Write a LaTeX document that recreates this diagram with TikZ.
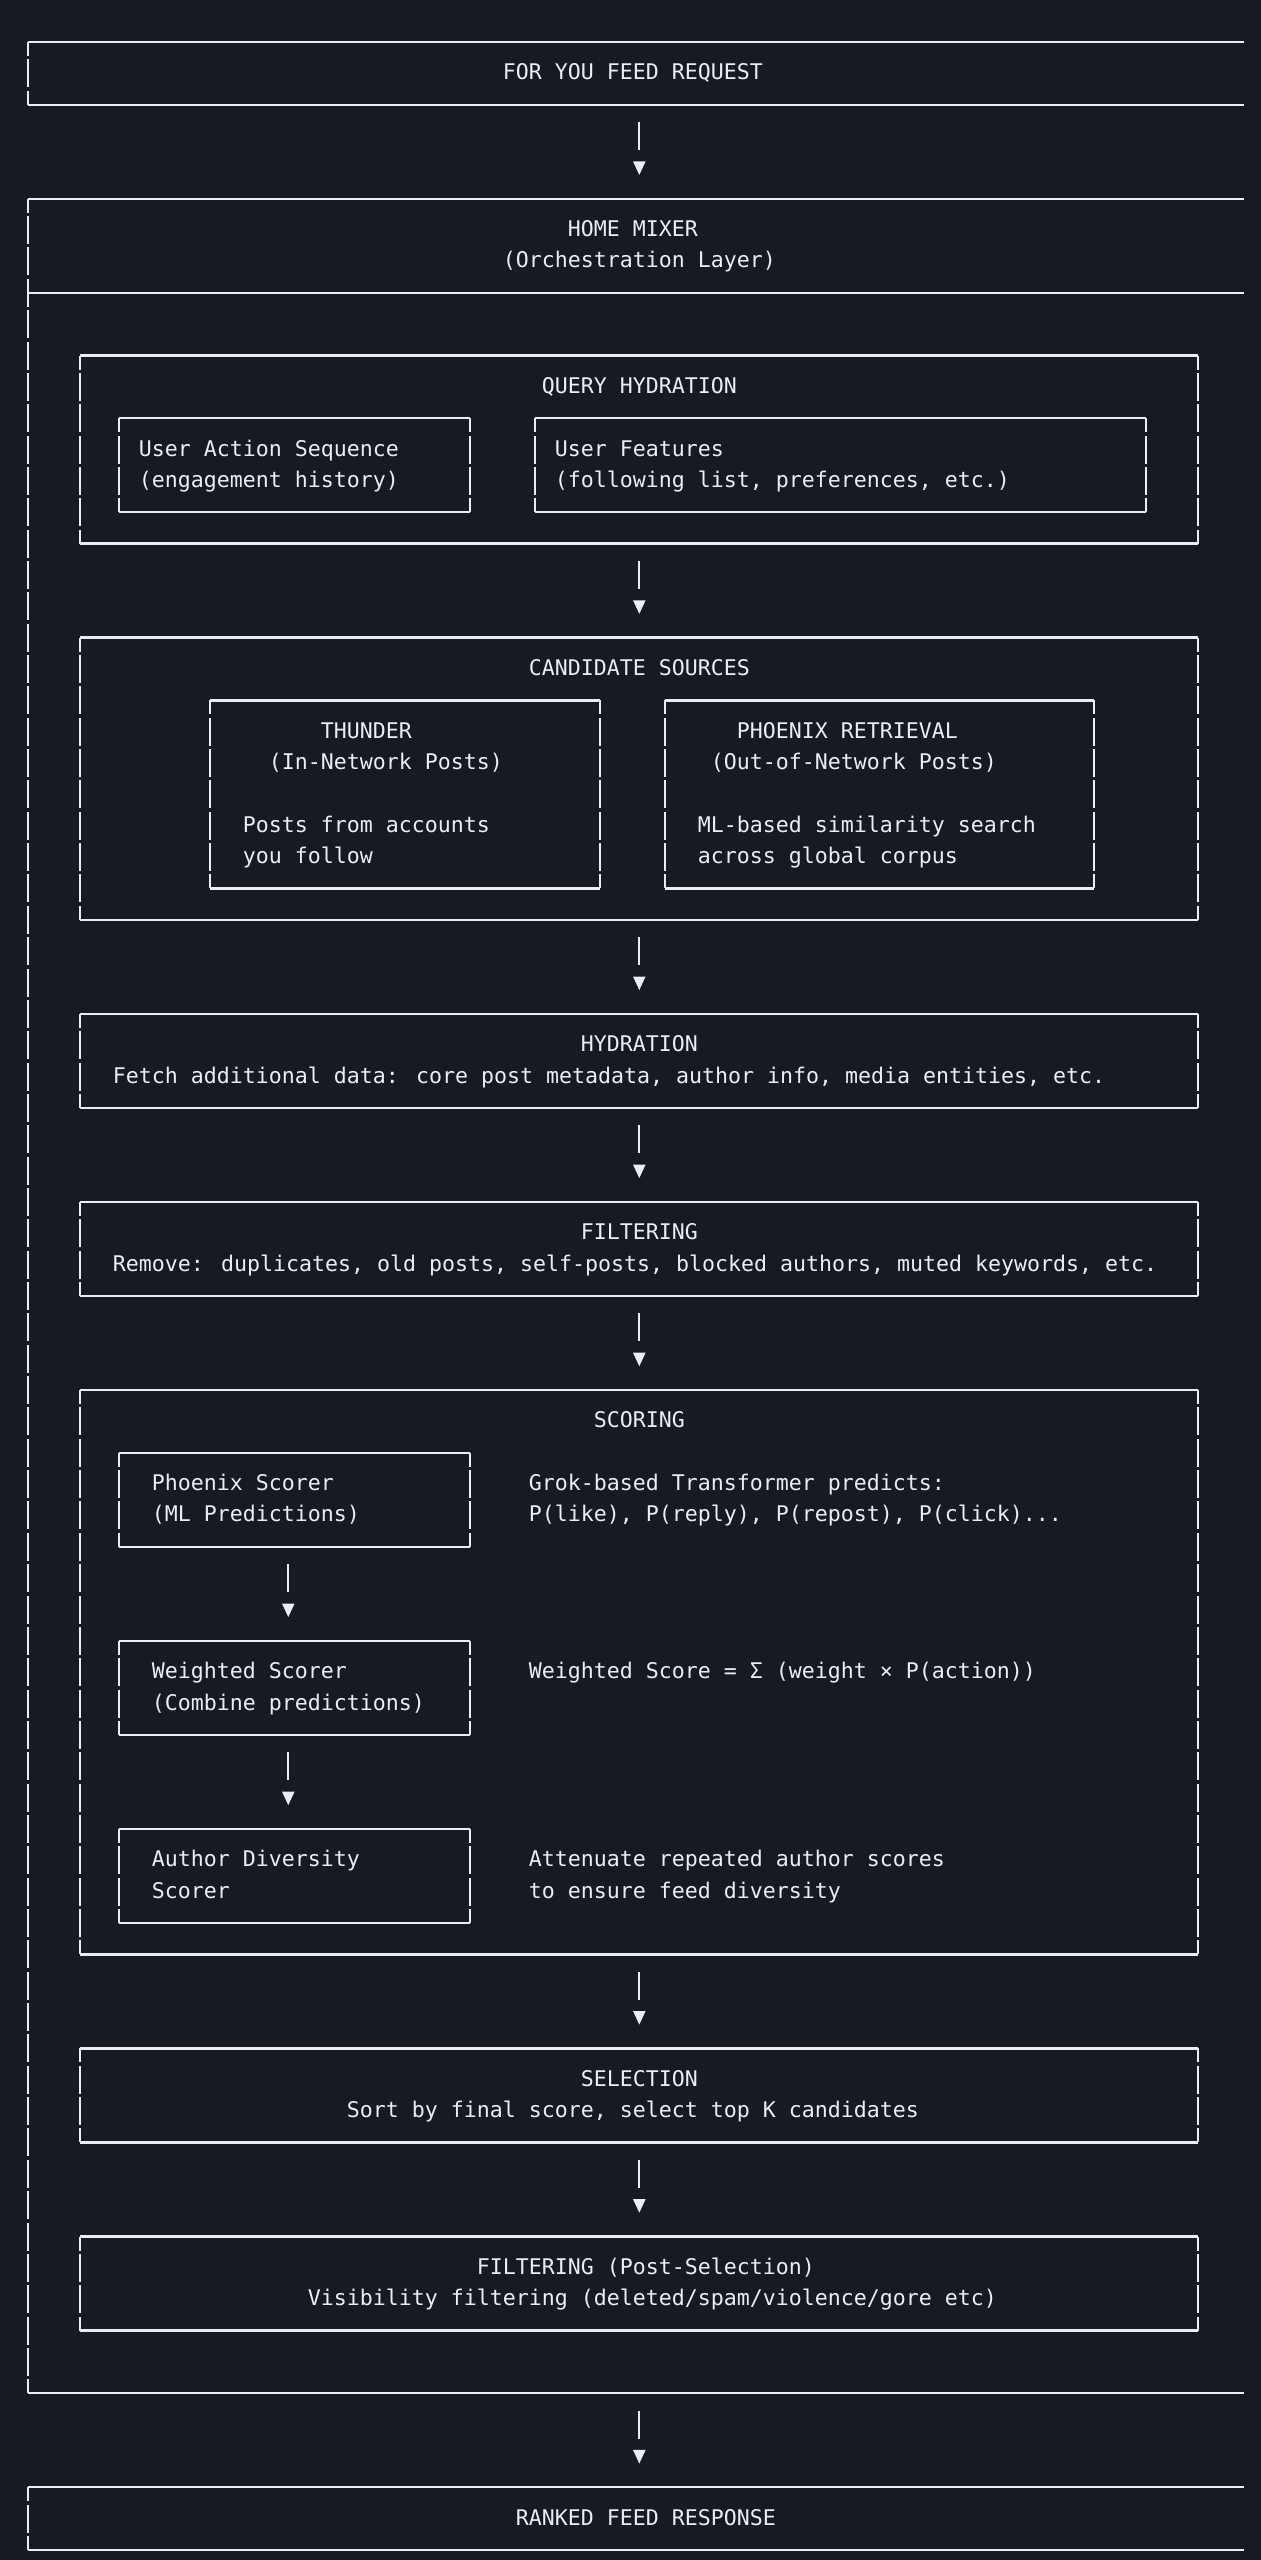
\documentclass[tikz,border=0pt]{standalone}
\usepackage{fontspec}
\newfontfamily\asciimono{DejaVu Sans Mono}
\usetikzlibrary{fit,calc}
\definecolor{bgc}{RGB}{22,27,34}
\definecolor{fgc}{RGB}{232,238,244}
\makeatletter
\def\gridparse#1,#2\@nil{%
  \pgfmathsetmacro\gridX{28.3+13*(#1)}%
  \pgfmathsetmacro\gridY{42+31.35*(#2)}%
  \pgfpointxy{\gridX}{\gridY}}
\tikzdeclarecoordinatesystem{g}{\gridparse#1\@nil}
\makeatother
\tikzset{
  hrule/.style={draw=fgc, line width=0.7pt, line cap=butt},
  vrule/.style={draw=fgc, line width=0.7pt, dash pattern=on 8.4pt off 1.005pt, dash phase=4.2pt},
  boxfit/.style={inner sep=0pt, outer sep=0pt},
  txt/.style={anchor=base west, inner sep=0pt, outer sep=0pt, text=fgc, yshift=-1.95pt,
    font=\asciimono\fontsize{6.478pt}{8pt}\selectfont},
  tip/.style={fill=fgc},
}
\newcommand\asciibox[5]{%
  \node[boxfit, fit={(g cs:#2,#3) (g cs:#4,#5)}] (#1) {};
  \draw[hrule] (#1.north west) -- (#1.north east);
  \draw[hrule] (#1.south west) -- (#1.south east);
  \draw[vrule] (#1.north west) -- (#1.south west);
  \draw[vrule] (#1.north east) -- (#1.south east);
}
\newcommand\openbox[5]{%
  \node[boxfit, fit={(g cs:#2,#3) (g cs:#4+0.5,#5)}] (#1) {};
  \draw[hrule] (#1.north west) -- (#1.north east);
  \draw[hrule] (#1.south west) -- (#1.south east);
  \draw[vrule] (#1.north west) -- (#1.south west);
}
\newcommand\asciiarrow[3]{%
  \draw[hrule] ($(#1.south -| #2)+(0,17.35)$) -- ($(#1.south -| #2)+(0,45.35)$);
  \fill[tip] ($(#3.north -| #2)+(-6.3,-37.35)$) -- ++(12.6,0) -- ++(-6.3,13.5) -- cycle;
}
\newcommand\asciitext[4]{\node[txt] (#1) at (g cs:#2-0.5,#3) {#4};}
\begin{document}
\begin{tikzpicture}[x=0.3pt,y=-0.3pt]
\useasboundingbox (0,0) rectangle (1261,2560);
\fill[bgc] (0,0) rectangle (1261,2560);
\coordinate (col47) at (g cs:47,0);
\coordinate (col20) at (g cs:20,0);

% outer boxes
\openbox{fyr}{0}{0}{93}{2}
\openbox{home}{0}{5}{93}{75}
\coordinate (homesep) at (g cs:0,8);
\draw[hrule] (homesep) -- (homesep -| home.east);
\openbox{rfr}{0}{78}{93}{80}

% inner boxes
\asciibox{qh}{4}{10}{90}{16}
\asciibox{uas}{7}{12}{34}{15}
\asciibox{uf}{39}{12}{86}{15}
\asciibox{candsrc}{4}{19}{90}{28}
\asciibox{thunder}{14}{21}{44}{27}
\asciibox{phx}{49}{21}{82}{27}
\asciibox{hyd}{4}{31}{90}{34}
\asciibox{filt}{4}{37}{90}{40}
\asciibox{scoring}{4}{43}{90}{61}
\asciibox{ps}{7}{45}{34}{48}
\asciibox{ws}{7}{51}{34}{54}
\asciibox{ad}{7}{57}{34}{60}
\asciibox{sel}{4}{64}{90}{67}
\asciibox{post}{4}{70}{90}{73}

% arrows
\asciiarrow{fyr}{col47}{home}
\asciiarrow{qh}{col47}{candsrc}
\asciiarrow{candsrc}{col47}{hyd}
\asciiarrow{hyd}{col47}{filt}
\asciiarrow{filt}{col47}{scoring}
\asciiarrow{scoring}{col47}{sel}
\asciiarrow{sel}{col47}{post}
\asciiarrow{home}{col47}{rfr}
\asciiarrow{ps}{col20}{ws}
\asciiarrow{ws}{col20}{ad}

% texts
\asciitext{tfyr}{37}{1}{FOR YOU FEED REQUEST}
\asciitext{thome}{42}{6}{HOME MIXER}
\asciitext{thome2}{37}{7}{(Orchestration Layer)}
\asciitext{tqh}{40}{11}{QUERY HYDRATION}
\asciitext{tuas}{9}{13}{User Action Sequence}
\asciitext{tuas2}{9}{14}{(engagement history)}
\asciitext{tuf}{41}{13}{User Features}
\asciitext{tuf2}{41}{14}{(following list, preferences, etc.)}
\asciitext{tcs}{39}{20}{CANDIDATE SOURCES}
\asciitext{tth}{23}{22}{THUNDER}
\asciitext{tth2}{19}{23}{(In-Network Posts)}
\asciitext{tth3}{17}{25}{Posts from accounts}
\asciitext{tth4}{17}{26}{you follow}
\asciitext{tpx}{55}{22}{PHOENIX RETRIEVAL}
\asciitext{tpx2}{53}{23}{(Out-of-Network Posts)}
\asciitext{tpx3}{52}{25}{ML-based similarity search}
\asciitext{tpx4}{52}{26}{across global corpus}
\asciitext{thyd}{43}{32}{HYDRATION}
\asciitext{thyd2}{7}{33}{Fetch additional data: core post metadata, author info, media entities, etc.}
\asciitext{tfilt}{43}{38}{FILTERING}
\asciitext{tfilt2}{7}{39}{Remove: duplicates, old posts, self-posts, blocked authors, muted keywords, etc.}
\asciitext{tsc}{44}{44}{SCORING}
\asciitext{tps}{10}{46}{Phoenix Scorer}
\asciitext{tps2}{10}{47}{(ML Predictions)}
\asciitext{tpsd}{39}{46}{Grok-based Transformer predicts:}
\asciitext{tpsd2}{39}{47}{P(like), P(reply), P(repost), P(click)...}
\asciitext{tws}{10}{52}{Weighted Scorer}
\asciitext{tws2}{10}{53}{(Combine predictions)}
\asciitext{twsd}{39}{52}{Weighted Score = Σ (weight × P(action))}
\asciitext{tad}{10}{58}{Author Diversity}
\asciitext{tad2}{10}{59}{Scorer}
\asciitext{tadd}{39}{58}{Attenuate repeated author scores}
\asciitext{tadd2}{39}{59}{to ensure feed diversity}
\asciitext{tsel}{43}{65}{SELECTION}
\asciitext{tsel2}{25}{66}{Sort by final score, select top K candidates}
\asciitext{tpost}{35}{71}{FILTERING (Post-Selection)}
\asciitext{tpost2}{22}{72}{Visibility filtering (deleted/spam/violence/gore etc)}
\asciitext{trfr}{38}{79}{RANKED FEED RESPONSE}
\end{tikzpicture}
\end{document}
